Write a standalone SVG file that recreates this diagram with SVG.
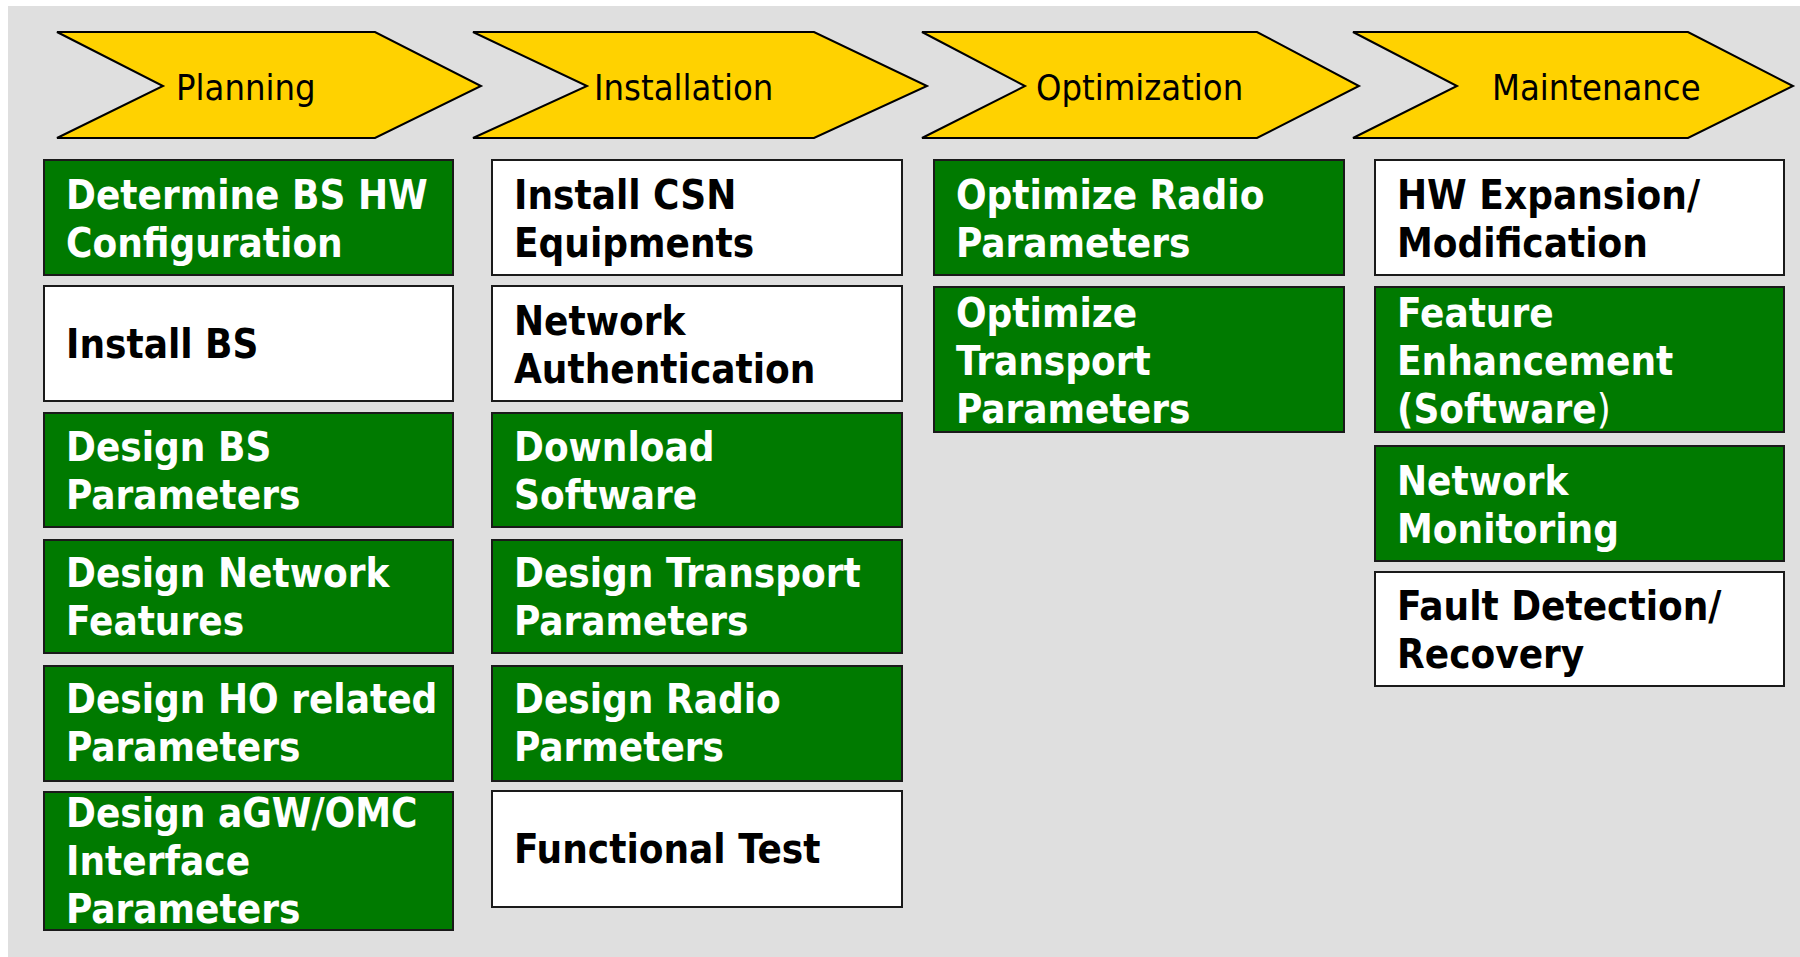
<svg xmlns="http://www.w3.org/2000/svg" width="1800" height="957" viewBox="0 0 1800 957">
  <style>
    .bg { fill: #dfdfdf; }
    .phase { fill: #ffd200; stroke: #000; stroke-width: 2; stroke-linejoin: miter; }
    .phase-label { font-family: "DejaVu Sans Condensed", "DejaVu Sans", sans-serif; font-stretch: condensed; font-size: 36px; fill: #000; }
    .box { stroke: #1a1a1a; stroke-width: 2; }
    .green { fill: #007a00; }
    .white { fill: #ffffff; }
    .task { font-family: "DejaVu Sans Condensed", "DejaVu Sans", sans-serif; font-stretch: condensed; font-weight: bold; font-size: 40px; }
    .on-green { fill: #ffffff; }
    .on-white { fill: #000000; }
  </style>

  <rect width="1800" height="957" fill="#ffffff"/>
  <rect class="bg" x="8" y="6" width="1792" height="951"/>

  <!-- Phase chevrons -->
  <g id="phase-planning">
    <polygon class="phase" points="57,32 375,32 481,86 375,138 57,138 163,86"/>
    <text class="phase-label" x="176" y="100">Planning</text>
  </g>
  <g id="phase-installation">
    <polygon class="phase" points="473,32 814,32 927,86 814,138 473,138 587,86"/>
    <text class="phase-label" x="594" y="100">Installation</text>
  </g>
  <g id="phase-optimization">
    <polygon class="phase" points="922,32 1257,32 1359,86 1257,138 922,138 1025,86"/>
    <text class="phase-label" x="1036" y="100">Optimization</text>
  </g>
  <g id="phase-maintenance">
    <polygon class="phase" points="1353,32 1688,32 1793,86 1688,138 1353,138 1457,86"/>
    <text class="phase-label" x="1492" y="100">Maintenance</text>
  </g>

  <!-- Planning tasks -->
  <g id="determine-bs-hw">
    <rect class="box green" x="44" y="160" width="409" height="115"/>
    <text class="task on-green" x="66" y="209">Determine BS HW</text>
    <text class="task on-green" x="66" y="257">Configuration</text>
  </g>
  <g id="install-bs">
    <rect class="box white" x="44" y="286" width="409" height="115"/>
    <text class="task on-white" x="66" y="358">Install BS</text>
  </g>
  <g id="design-bs-params">
    <rect class="box green" x="44" y="413" width="409" height="114"/>
    <text class="task on-green" x="66" y="461">Design BS</text>
    <text class="task on-green" x="66" y="509">Parameters</text>
  </g>
  <g id="design-network-features">
    <rect class="box green" x="44" y="540" width="409" height="113"/>
    <text class="task on-green" x="66" y="587">Design Network</text>
    <text class="task on-green" x="66" y="635">Features</text>
  </g>
  <g id="design-ho-params">
    <rect class="box green" x="44" y="666" width="409" height="115"/>
    <text class="task on-green" x="66" y="713">Design HO related</text>
    <text class="task on-green" x="66" y="761">Parameters</text>
  </g>
  <g id="design-agw-omc">
    <rect class="box green" x="44" y="792" width="409" height="138"/>
    <text class="task on-green" x="66" y="827">Design aGW/OMC</text>
    <text class="task on-green" x="66" y="875">Interface</text>
    <text class="task on-green" x="66" y="923">Parameters</text>
  </g>

  <!-- Installation tasks -->
  <g id="install-csn">
    <rect class="box white" x="492" y="160" width="410" height="115"/>
    <text class="task on-white" x="514" y="209">Install CSN</text>
    <text class="task on-white" x="514" y="257">Equipments</text>
  </g>
  <g id="network-authentication">
    <rect class="box white" x="492" y="286" width="410" height="115"/>
    <text class="task on-white" x="514" y="335">Network</text>
    <text class="task on-white" x="514" y="383">Authentication</text>
  </g>
  <g id="download-software">
    <rect class="box green" x="492" y="413" width="410" height="114"/>
    <text class="task on-green" x="514" y="461">Download</text>
    <text class="task on-green" x="514" y="509">Software</text>
  </g>
  <g id="design-transport-params">
    <rect class="box green" x="492" y="540" width="410" height="113"/>
    <text class="task on-green" x="514" y="587">Design Transport</text>
    <text class="task on-green" x="514" y="635">Parameters</text>
  </g>
  <g id="design-radio-params">
    <rect class="box green" x="492" y="666" width="410" height="115"/>
    <text class="task on-green" x="514" y="713">Design Radio</text>
    <text class="task on-green" x="514" y="761">Parmeters</text>
  </g>
  <g id="functional-test">
    <rect class="box white" x="492" y="791" width="410" height="116"/>
    <text class="task on-white" x="514" y="863">Functional Test</text>
  </g>

  <!-- Optimization tasks -->
  <g id="optimize-radio">
    <rect class="box green" x="934" y="160" width="410" height="115"/>
    <text class="task on-green" x="956" y="209">Optimize Radio</text>
    <text class="task on-green" x="956" y="257">Parameters</text>
  </g>
  <g id="optimize-transport">
    <rect class="box green" x="934" y="287" width="410" height="145"/>
    <text class="task on-green" x="956" y="327">Optimize</text>
    <text class="task on-green" x="956" y="375">Transport</text>
    <text class="task on-green" x="956" y="423">Parameters</text>
  </g>

  <!-- Maintenance tasks -->
  <g id="hw-expansion">
    <rect class="box white" x="1375" y="160" width="409" height="115"/>
    <text class="task on-white" x="1397" y="209">HW Expansion/</text>
    <text class="task on-white" x="1397" y="257">Modification</text>
  </g>
  <g id="feature-enhancement">
    <rect class="box green" x="1375" y="287" width="409" height="145"/>
    <text class="task on-green" x="1397" y="327">Feature</text>
    <text class="task on-green" x="1397" y="375">Enhancement</text>
    <text class="task on-green" x="1397" y="423">(Software<tspan font-weight="normal">)</tspan></text>
  </g>
  <g id="network-monitoring">
    <rect class="box green" x="1375" y="446" width="409" height="115"/>
    <text class="task on-green" x="1397" y="495">Network</text>
    <text class="task on-green" x="1397" y="543">Monitoring</text>
  </g>
  <g id="fault-detection">
    <rect class="box white" x="1375" y="572" width="409" height="114"/>
    <text class="task on-white" x="1397" y="620">Fault Detection/</text>
    <text class="task on-white" x="1397" y="668">Recovery</text>
  </g>

  <!-- No connectors: phases are linked by the chevron shapes themselves -->
  <g id="connectors"/>
</svg>
